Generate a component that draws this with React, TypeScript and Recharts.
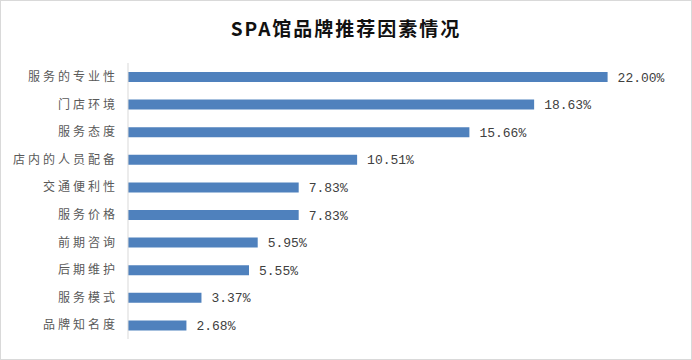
import { BarChart, Bar, XAxis, YAxis, LabelList } from 'recharts';

const categories = [
  '服务的专业性',
  '门店环境',
  '服务态度',
  '店内的人员配备',
  '交通便利性',
  '服务价格',
  '前期咨询',
  '后期维护',
  '服务模式',
  '品牌知名度',
];

const shares = [22.0, 18.63, 15.66, 10.51, 7.83, 7.83, 5.95, 5.55, 3.37, 2.68];

const data = categories.map((name, i) => ({ name, value: shares[i] }));

const App = () => {
  return (
    <div
      style={{
        position: 'absolute',
        left: 0,
        top: 0,
        width: 692,
        height: 360,
        boxSizing: 'border-box',
        border: '1px solid #d9d9d9',
        background: '#fff',
      }}
    >
      <div
        style={{
          position: 'absolute',
          left: 0,
          right: 0,
          top: 13,
          textAlign: 'center',
          fontFamily: '"Noto Sans CJK SC", sans-serif',
          fontWeight: 'bold',
          fontSize: 19,
          letterSpacing: 2,
          color: '#111',
        }}
      >
        SPA馆品牌推荐因素情况
      </div>
      <BarChart
        width={690}
        height={358}
        data={data}
        layout="vertical"
        margin={{ top: 62, right: 18, bottom: 20, left: 0 }}
        barCategoryGap="32%"
      >
        <XAxis type="number" hide domain={[0, 25]} />
        <YAxis
          type="category"
          dataKey="name"
          width={127}
          axisLine={{ stroke: '#d9d9d9' }}
          tickLine={false}
          tickMargin={4}
          tick={{
            fill: '#595959',
            fontSize: 12,
            letterSpacing: 3,
            fontFamily: '"Noto Sans CJK SC", sans-serif',
          }}
        />
        <Bar dataKey="value" fill="#4f81bd" barSize={10} isAnimationActive={false}>
          <LabelList
            dataKey="value"
            position="right"
            offset={10}
            formatter={(v: any) => `${Number(v).toFixed(2)}%`}
            style={{ fill: '#404040', fontSize: 13, fontFamily: '"Liberation Mono", monospace' }}
          />
        </Bar>
      </BarChart>
    </div>
  );
};

export default App;
